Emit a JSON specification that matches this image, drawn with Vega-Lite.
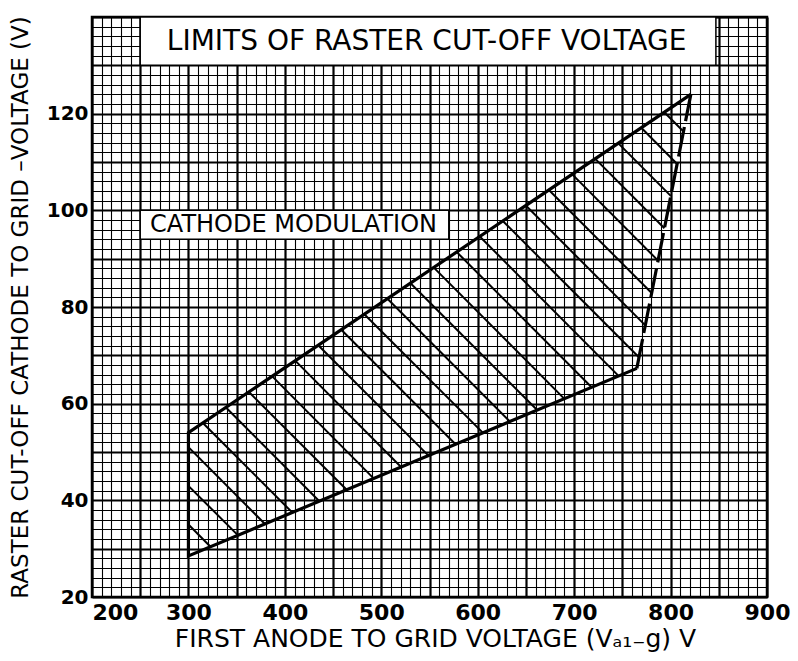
{
  "$schema": "https://vega.github.io/schema/vega-lite/v6.json",
  "width": 675,
  "height": 580,
  "autosize": {"type": "none"},
  "padding": {"left": 92, "top": 17, "right": 31, "bottom": 64},
  "background": "white",
  "config": {"view": {"stroke": "black", "strokeWidth": 2.5}, "font": "DejaVu Sans"},
  "datasets": {
    "hatch": [
      {"x": 300, "y": 35, "x2": 322.9, "y2": 30.4},
      {"x": 300, "y": 43, "x2": 351.2, "y2": 32.8},
      {"x": 300, "y": 51, "x2": 379.4, "y2": 35.1},
      {"x": 315.0, "y": 56.0, "x2": 407.6, "y2": 37.5},
      {"x": 338.9, "y": 59.2, "x2": 435.8, "y2": 39.8},
      {"x": 362.8, "y": 62.4, "x2": 464.1, "y2": 42.2},
      {"x": 386.7, "y": 65.7, "x2": 492.3, "y2": 44.5},
      {"x": 410.7, "y": 68.9, "x2": 520.5, "y2": 46.9},
      {"x": 434.6, "y": 72.1, "x2": 548.7, "y2": 49.3},
      {"x": 458.5, "y": 75.3, "x2": 577.0, "y2": 51.6},
      {"x": 482.4, "y": 78.5, "x2": 605.2, "y2": 54.0},
      {"x": 506.4, "y": 81.7, "x2": 633.4, "y2": 56.3},
      {"x": 530.3, "y": 84.9, "x2": 661.6, "y2": 58.7},
      {"x": 554.2, "y": 88.2, "x2": 689.9, "y2": 61.0},
      {"x": 578.1, "y": 91.4, "x2": 718.1, "y2": 63.4},
      {"x": 602.1, "y": 94.6, "x2": 746.3, "y2": 65.7},
      {"x": 626.0, "y": 97.8, "x2": 767.2, "y2": 69.6},
      {"x": 649.9, "y": 101.0, "x2": 773.8, "y2": 76.2},
      {"x": 673.8, "y": 104.2, "x2": 780.4, "y2": 82.9},
      {"x": 697.8, "y": 107.5, "x2": 787.0, "y2": 89.6},
      {"x": 721.7, "y": 110.7, "x2": 793.6, "y2": 96.3},
      {"x": 745.6, "y": 113.9, "x2": 800.2, "y2": 103.0},
      {"x": 769.6, "y": 117.1, "x2": 806.8, "y2": 109.6},
      {"x": 793.5, "y": 120.3, "x2": 813.4, "y2": 116.3}
    ],
    "outline": [
      {"x": 821, "y": 124, "o": 1},
      {"x": 300, "y": 54, "o": 2},
      {"x": 300, "y": 28.5, "o": 3},
      {"x": 765, "y": 67.3, "o": 4}
    ],
    "dashed": [
      {"x": 765, "y": 67.3},
      {"x": 821, "y": 124}
    ],
    "titlebox": [{"x": 250, "x2": 847, "y": 130, "y2": 140}],
    "cathbox": [{"x": 250, "x2": 570, "y": 94, "y2": 100}],
    "titletext": [{"x": 547, "y": 134.8, "t": "LIMITS OF RASTER CUT-OFF VOLTAGE"}],
    "cathtext": [{"x": 409, "y": 96.9, "t": "CATHODE MODULATION"}]
  },
  "layer": [
    {
      "data": {"name": "hatch"},
      "mark": {"type": "rule", "stroke": "black", "strokeWidth": 2},
      "encoding": {
        "x": {
          "field": "x", "type": "quantitative",
          "scale": {"domain": [200, 900], "nice": false, "zero": false},
          "axis": {
            "title": "FIRST ANODE TO GRID VOLTAGE (Vₐ₁₋g) V",
            "tickCount": 70,
            "grid": true,
            "gridColor": "black",
            "gridOpacity": 1,
            "gridWidth": {"condition": {"test": "datum.value % 50 === 0", "value": 2.2}, "value": 1.1},
            "ticks": false,
            "domain": false,
            "labelExpr": "datum.value % 100 === 0 ? datum.label : ''",
            "labelOverlap": false,
            "labelBound": false,
            "labelFlush": false,
            "labelFont": "DejaVu Sans",
            "labelFontWeight": "bold",
            "labelFontSize": 22,
            "labelColor": "black",
            "labelPadding": 5,
            "labelAlign": {"condition": {"test": "datum.value === 200", "value": "left"}, "value": "center"},
            "titleFont": "DejaVu Sans",
            "titleFontSize": 25,
            "titleFontWeight": "normal",
            "titleColor": "black",
            "titleX": 343,
            "titleY": 41,
            "titleAlign": "center",
            "titleBaseline": "middle"
          }
        },
        "y": {
          "field": "y", "type": "quantitative",
          "scale": {"domain": [20, 140], "nice": false, "zero": false},
          "axis": {
            "title": "RASTER CUT-OFF CATHODE TO GRID –VOLTAGE (V)",
            "tickCount": 60,
            "grid": true,
            "gridColor": "black",
            "gridOpacity": 1,
            "gridWidth": {"condition": {"test": "datum.value % 10 === 0", "value": 2.2}, "value": 1.1},
            "ticks": false,
            "domain": false,
            "labelExpr": "datum.value % 20 === 0 && datum.value < 140 ? datum.label : ''",
            "labelOverlap": false,
            "labelBound": false,
            "labelFlush": false,
            "labelFont": "DejaVu Sans",
            "labelFontWeight": "bold",
            "labelFontSize": 20,
            "labelColor": "black",
            "labelPadding": 4,
            "titleFont": "DejaVu Sans",
            "titleFontSize": 23,
            "titleFontWeight": "normal",
            "titleColor": "black",
            "titleX": -72,
            "titleY": 290,
            "titleAngle": -90,
            "titleAlign": "center",
            "titleBaseline": "middle"
          }
        },
        "x2": {"field": "x2"},
        "y2": {"field": "y2"}
      }
    },
    {
      "data": {"name": "titlebox"},
      "mark": {"type": "rect", "fill": "white", "stroke": "black", "strokeWidth": 1.5},
      "encoding": {
        "x": {"field": "x", "type": "quantitative"},
        "x2": {"field": "x2"},
        "y": {"field": "y", "type": "quantitative"},
        "y2": {"field": "y2"}
      }
    },
    {
      "data": {"name": "cathbox"},
      "mark": {"type": "rect", "fill": "white", "stroke": "black", "strokeWidth": 1.5},
      "encoding": {
        "x": {"field": "x", "type": "quantitative"},
        "x2": {"field": "x2"},
        "y": {"field": "y", "type": "quantitative"},
        "y2": {"field": "y2"}
      }
    },
    {
      "data": {"name": "titletext"},
      "mark": {"type": "text", "font": "DejaVu Sans", "fontSize": 28, "fontWeight": "normal", "color": "black", "align": "center", "baseline": "middle"},
      "encoding": {
        "x": {"field": "x", "type": "quantitative"},
        "y": {"field": "y", "type": "quantitative"},
        "text": {"field": "t"}
      }
    },
    {
      "data": {"name": "cathtext"},
      "mark": {"type": "text", "font": "DejaVu Sans", "fontSize": 24, "fontWeight": "normal", "color": "black", "align": "center", "baseline": "middle"},
      "encoding": {
        "x": {"field": "x", "type": "quantitative"},
        "y": {"field": "y", "type": "quantitative"},
        "text": {"field": "t"}
      }
    },
    {
      "data": {"name": "outline"},
      "mark": {"type": "line", "color": "black", "strokeWidth": 3.2, "strokeJoin": "miter"},
      "encoding": {
        "x": {"field": "x", "type": "quantitative"},
        "y": {"field": "y", "type": "quantitative"},
        "order": {"field": "o", "type": "quantitative"}
      }
    },
    {
      "data": {"name": "dashed"},
      "mark": {"type": "line", "color": "black", "strokeWidth": 3.2, "strokeDash": [30, 6]},
      "encoding": {
        "x": {"field": "x", "type": "quantitative"},
        "y": {"field": "y", "type": "quantitative"}
      }
    }
  ]
}
